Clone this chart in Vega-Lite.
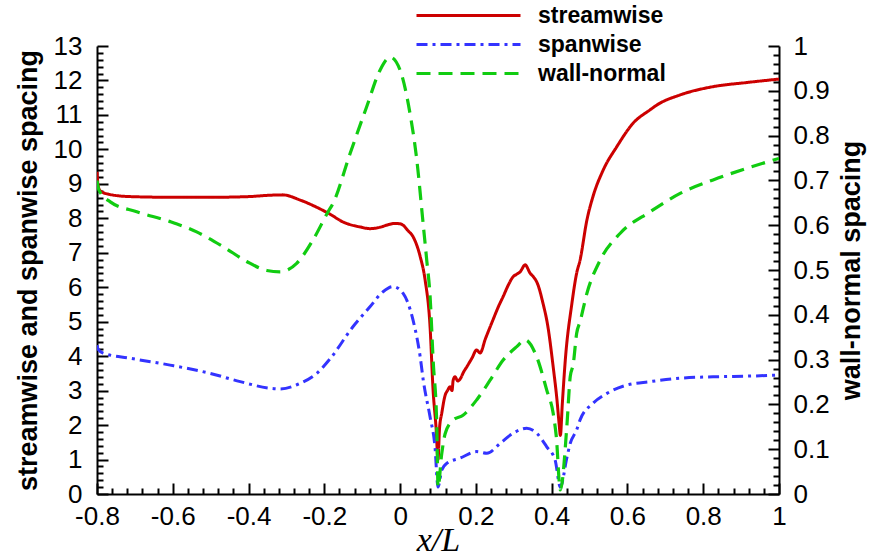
{
  "$schema": "https://vega.github.io/schema/vega-lite/v6.json",
  "autosize": {"type": "none"},
  "padding": {"left": 97, "top": 46, "right": 91, "bottom": 60},
  "width": 682,
  "height": 448,
  "background": "white",
  "config": {
    "view": {"stroke": null},
    "axis": {
      "domainColor": "black", "domainWidth": 2, "tickColor": "black", "tickWidth": 2,
      "grid": false, "labelFont": "Liberation Sans", "labelFontSize": 26, "labelColor": "black",
      "titleColor": "black"
    },
    "legend": {
      "labelFont": "Liberation Sans", "labelFontSize": 23, "labelFontWeight": "bold", "labelColor": "black"
    }
  },
  "datasets": {
    "lr": [
      {"s":"streamwise","x":-0.8,"y":9.35},{"s":"streamwise","x":-0.797,"y":8.95},{"s":"streamwise","x":-0.792,"y":8.8},{"s":"streamwise","x":-0.77,"y":8.7},{"s":"streamwise","x":-0.713,"y":8.63},{"s":"streamwise","x":-0.6,"y":8.61},{"s":"streamwise","x":-0.5,"y":8.61},{"s":"streamwise","x":-0.4,"y":8.63},{"s":"streamwise","x":-0.343,"y":8.67},{"s":"streamwise","x":-0.31,"y":8.68},{"s":"streamwise","x":-0.264,"y":8.53},{"s":"streamwise","x":-0.22,"y":8.32},{"s":"streamwise","x":-0.185,"y":8.12},{"s":"streamwise","x":-0.15,"y":7.89},{"s":"streamwise","x":-0.106,"y":7.75},{"s":"streamwise","x":-0.079,"y":7.7},{"s":"streamwise","x":-0.053,"y":7.74},{"s":"streamwise","x":-0.03,"y":7.82},{"s":"streamwise","x":-0.015,"y":7.85},{"s":"streamwise","x":0.0,"y":7.84},{"s":"streamwise","x":0.008,"y":7.8},{"s":"streamwise","x":0.02,"y":7.65},{"s":"streamwise","x":0.034,"y":7.47},{"s":"streamwise","x":0.053,"y":6.89},{"s":"streamwise","x":0.066,"y":6.21},{"s":"streamwise","x":0.079,"y":4.86},{"s":"streamwise","x":0.087,"y":3.02},{"s":"streamwise","x":0.095,"y":1.9},{"s":"streamwise","x":0.1,"y":1.0},{"s":"streamwise","x":0.104,"y":1.9},{"s":"streamwise","x":0.11,"y":2.35},{"s":"streamwise","x":0.119,"y":2.87},{"s":"streamwise","x":0.125,"y":3.0},{"s":"streamwise","x":0.132,"y":3.11},{"s":"streamwise","x":0.137,"y":3.0},{"s":"streamwise","x":0.14,"y":3.3},{"s":"streamwise","x":0.145,"y":3.4},{"s":"streamwise","x":0.152,"y":3.28},{"s":"streamwise","x":0.158,"y":3.33},{"s":"streamwise","x":0.168,"y":3.55},{"s":"streamwise","x":0.176,"y":3.69},{"s":"streamwise","x":0.19,"y":3.95},{"s":"streamwise","x":0.202,"y":4.18},{"s":"streamwise","x":0.211,"y":4.09},{"s":"streamwise","x":0.225,"y":4.5},{"s":"streamwise","x":0.245,"y":5.05},{"s":"streamwise","x":0.26,"y":5.45},{"s":"streamwise","x":0.272,"y":5.73},{"s":"streamwise","x":0.285,"y":6.05},{"s":"streamwise","x":0.298,"y":6.3},{"s":"streamwise","x":0.308,"y":6.38},{"s":"streamwise","x":0.317,"y":6.45},{"s":"streamwise","x":0.33,"y":6.65},{"s":"streamwise","x":0.343,"y":6.41},{"s":"streamwise","x":0.352,"y":6.3},{"s":"streamwise","x":0.362,"y":6.12},{"s":"streamwise","x":0.377,"y":5.54},{"s":"streamwise","x":0.39,"y":4.86},{"s":"streamwise","x":0.404,"y":3.69},{"s":"streamwise","x":0.414,"y":2.73},{"s":"streamwise","x":0.42,"y":2.0},{"s":"streamwise","x":0.423,"y":1.7},{"s":"streamwise","x":0.428,"y":2.6},{"s":"streamwise","x":0.436,"y":3.89},{"s":"streamwise","x":0.453,"y":5.5},{"s":"streamwise","x":0.466,"y":6.41},{"s":"streamwise","x":0.475,"y":6.79},{"s":"streamwise","x":0.493,"y":7.95},{"s":"streamwise","x":0.509,"y":8.63},{"s":"streamwise","x":0.536,"y":9.4},{"s":"streamwise","x":0.572,"y":10.08},{"s":"streamwise","x":0.615,"y":10.76},{"s":"streamwise","x":0.66,"y":11.15},{"s":"streamwise","x":0.678,"y":11.29},{"s":"streamwise","x":0.739,"y":11.58},{"s":"streamwise","x":0.826,"y":11.82},{"s":"streamwise","x":0.915,"y":11.94},{"s":"streamwise","x":1.0,"y":12.04},
      {"s":"spanwise","x":-0.8,"y":4.32},{"s":"spanwise","x":-0.797,"y":4.2},{"s":"spanwise","x":-0.784,"y":4.09},{"s":"spanwise","x":-0.713,"y":3.94},{"s":"spanwise","x":-0.607,"y":3.74},{"s":"spanwise","x":-0.501,"y":3.5},{"s":"spanwise","x":-0.422,"y":3.26},{"s":"spanwise","x":-0.343,"y":3.07},{"s":"spanwise","x":-0.317,"y":3.05},{"s":"spanwise","x":-0.264,"y":3.21},{"s":"spanwise","x":-0.22,"y":3.5},{"s":"spanwise","x":-0.185,"y":3.92},{"s":"spanwise","x":-0.124,"y":4.86},{"s":"spanwise","x":-0.079,"y":5.44},{"s":"spanwise","x":-0.045,"y":5.87},{"s":"spanwise","x":-0.019,"y":6.02},{"s":"spanwise","x":0.008,"y":5.82},{"s":"spanwise","x":0.034,"y":5.05},{"s":"spanwise","x":0.053,"y":3.98},{"s":"spanwise","x":0.061,"y":3.31},{"s":"spanwise","x":0.079,"y":2.24},{"s":"spanwise","x":0.092,"y":1.37},{"s":"spanwise","x":0.1,"y":0.2},{"s":"spanwise","x":0.11,"y":0.7},{"s":"spanwise","x":0.123,"y":0.89},{"s":"spanwise","x":0.158,"y":1.04},{"s":"spanwise","x":0.202,"y":1.23},{"s":"spanwise","x":0.229,"y":1.18},{"s":"spanwise","x":0.264,"y":1.47},{"s":"spanwise","x":0.298,"y":1.76},{"s":"spanwise","x":0.334,"y":1.91},{"s":"spanwise","x":0.361,"y":1.76},{"s":"spanwise","x":0.387,"y":1.37},{"s":"spanwise","x":0.409,"y":0.99},{"s":"spanwise","x":0.423,"y":0.2},{"s":"spanwise","x":0.44,"y":1.05},{"s":"spanwise","x":0.449,"y":1.47},{"s":"spanwise","x":0.466,"y":1.86},{"s":"spanwise","x":0.475,"y":2.15},{"s":"spanwise","x":0.509,"y":2.63},{"s":"spanwise","x":0.546,"y":2.92},{"s":"spanwise","x":0.598,"y":3.16},{"s":"spanwise","x":0.66,"y":3.26},{"s":"spanwise","x":0.739,"y":3.36},{"s":"spanwise","x":0.826,"y":3.4},{"s":"spanwise","x":0.915,"y":3.42},{"s":"spanwise","x":1.0,"y":3.45}
    ],
    "wn": [
      {"s":"wall-normal","x":-0.8,"y":0.7},{"s":"wall-normal","x":-0.795,"y":0.679},{"s":"wall-normal","x":-0.765,"y":0.652},{"s":"wall-normal","x":-0.695,"y":0.63},{"s":"wall-normal","x":-0.607,"y":0.608},{"s":"wall-normal","x":-0.537,"y":0.585},{"s":"wall-normal","x":-0.467,"y":0.552},{"s":"wall-normal","x":-0.405,"y":0.519},{"s":"wall-normal","x":-0.352,"y":0.499},{"s":"wall-normal","x":-0.317,"y":0.496},{"s":"wall-normal","x":-0.273,"y":0.515},{"s":"wall-normal","x":-0.23,"y":0.567},{"s":"wall-normal","x":-0.19,"y":0.63},{"s":"wall-normal","x":-0.177,"y":0.649},{"s":"wall-normal","x":-0.132,"y":0.76},{"s":"wall-normal","x":-0.088,"y":0.865},{"s":"wall-normal","x":-0.053,"y":0.946},{"s":"wall-normal","x":-0.026,"y":0.975},{"s":"wall-normal","x":0.0,"y":0.946},{"s":"wall-normal","x":0.026,"y":0.85},{"s":"wall-normal","x":0.044,"y":0.746},{"s":"wall-normal","x":0.0615,"y":0.597},{"s":"wall-normal","x":0.0705,"y":0.52},{"s":"wall-normal","x":0.0792,"y":0.44},{"s":"wall-normal","x":0.0871,"y":0.3},{"s":"wall-normal","x":0.0969,"y":0.15},{"s":"wall-normal","x":0.1,"y":0.015},{"s":"wall-normal","x":0.11,"y":0.091},{"s":"wall-normal","x":0.119,"y":0.135},{"s":"wall-normal","x":0.14,"y":0.165},{"s":"wall-normal","x":0.166,"y":0.176},{"s":"wall-normal","x":0.202,"y":0.21},{"s":"wall-normal","x":0.2375,"y":0.254},{"s":"wall-normal","x":0.272,"y":0.299},{"s":"wall-normal","x":0.308,"y":0.329},{"s":"wall-normal","x":0.33,"y":0.344},{"s":"wall-normal","x":0.361,"y":0.305},{"s":"wall-normal","x":0.387,"y":0.232},{"s":"wall-normal","x":0.404,"y":0.18},{"s":"wall-normal","x":0.412,"y":0.13},{"s":"wall-normal","x":0.423,"y":0.009},{"s":"wall-normal","x":0.44,"y":0.15},{"s":"wall-normal","x":0.449,"y":0.262},{"s":"wall-normal","x":0.457,"y":0.29},{"s":"wall-normal","x":0.466,"y":0.359},{"s":"wall-normal","x":0.475,"y":0.385},{"s":"wall-normal","x":0.493,"y":0.448},{"s":"wall-normal","x":0.528,"y":0.522},{"s":"wall-normal","x":0.581,"y":0.582},{"s":"wall-normal","x":0.66,"y":0.63},{"s":"wall-normal","x":0.739,"y":0.671},{"s":"wall-normal","x":0.826,"y":0.701},{"s":"wall-normal","x":0.915,"y":0.727},{"s":"wall-normal","x":1.0,"y":0.749}
    ]
  },
  "layer": [
    {
      "data": {"name": "lr"},
      "mark": {"type": "line", "strokeWidth": 3, "clip": true, "interpolate": "monotone"},
      "encoding": {
        "x": {"field": "x", "type": "quantitative", "scale": {"domain": [-0.8, 1], "nice": false, "zero": false},
              "axis": {"orient": "bottom", "values": [-0.8,-0.6,-0.4,-0.2,0,0.2,0.4,0.6,0.8,1], "labelExpr": "'' + datum.value", "tickSize": -11, "labelPadding": 20,
                       "title": "x/L", "titleFont": "Liberation Serif", "titleFontStyle": "italic", "titleFontWeight": "normal", "titleFontSize": 34, "titleY": 56, "titleBaseline": "alphabetic", "labelFlush": false}},
        "y": {"field": "y", "type": "quantitative", "scale": {"domain": [0, 13], "nice": false, "zero": true},
              "axis": {"orient": "left", "values": [0,1,2,3,4,5,6,7,8,9,10,11,12,13], "tickSize": -11, "labelPadding": 26,
                       "title": "streamwise and spanwise spacing", "titleFont": "Liberation Sans", "titleFontWeight": "bold", "titleFontSize": 27, "titlePadding": 11}},
        "color": {"field": "s", "type": "nominal", "scale": {"domain": ["streamwise", "spanwise", "wall-normal"], "range": ["#cc0000", "#3333ff", "#11cc11"]},
                  "legend": {"title": null, "orient": "none", "legendX": 357, "legendY": -45, "symbolType": "M-4,0H4", "symbolSize": 676, "symbolStrokeWidth": 3, "labelOffset": 55, "rowPadding": 2}},
        "strokeDash": {"field": "s", "type": "nominal", "scale": {"domain": ["streamwise", "spanwise", "wall-normal"], "range": [[1, 0], [11, 5, 3, 5], [14, 8]]},
                  "legend": {"title": null, "orient": "none", "legendX": 357, "legendY": -45, "symbolType": "M-4,0H4", "symbolSize": 676, "symbolStrokeWidth": 3, "labelOffset": 55, "rowPadding": 2}}
      }
    },
    {
      "data": {"name": "lr"},
      "mark": {"type": "line", "strokeOpacity": 0},
      "encoding": {
        "x": {"field": "x", "type": "quantitative", "scale": {"domain": [-0.8, 1], "nice": false, "zero": false},
              "axis": {"orient": "bottom", "values": [-0.76,-0.72,-0.68,-0.64,-0.56,-0.52,-0.48,-0.44,-0.36,-0.32,-0.28,-0.24,-0.16,-0.12,-0.08,-0.04,0.04,0.08,0.12,0.16,0.24,0.28,0.32,0.36,0.44,0.48,0.52,0.56,0.64,0.68,0.72,0.76,0.84,0.88,0.92,0.96], "tickSize": -6, "labels": false, "domain": false, "title": null}},
        "y": {"field": "y", "type": "quantitative", "scale": {"domain": [0, 13], "nice": false},
              "axis": {"orient": "left", "values": [0.2,0.4,0.6,0.8,1.2,1.4,1.6,1.8,2.2,2.4,2.6,2.8,3.2,3.4,3.6,3.8,4.2,4.4,4.6,4.8,5.2,5.4,5.6,5.8,6.2,6.4,6.6,6.8,7.2,7.4,7.6,7.8,8.2,8.4,8.6,8.8,9.2,9.4,9.6,9.8,10.2,10.4,10.6,10.8,11.2,11.4,11.6,11.8,12.2,12.4,12.6,12.8], "tickSize": -6, "labels": false, "domain": false, "title": null}}
      }
    },
    {
      "data": {"name": "wn"},
      "mark": {"type": "line", "strokeWidth": 3.2, "clip": true, "interpolate": "monotone"},
      "encoding": {
        "x": {"field": "x", "type": "quantitative", "scale": {"domain": [-0.8, 1], "nice": false, "zero": false}, "axis": null},
        "y": {"field": "y", "type": "quantitative", "scale": {"domain": [0, 1], "nice": false},
              "axis": {"orient": "right", "values": [0,0.1,0.2,0.3,0.4,0.5,0.6,0.7,0.8,0.9,1], "labelExpr": "'' + datum.value", "tickSize": -11, "labelPadding": 25,
                       "title": "wall-normal spacing", "titleFont": "Liberation Sans", "titleFontWeight": "bold", "titleFontSize": 27, "titleAngle": 270, "titleX": 80, "titleY": 224, "titleBaseline": "alphabetic", "titleAlign": "center"}},
        "color": {"field": "s", "type": "nominal", "scale": {"domain": ["streamwise", "spanwise", "wall-normal"], "range": ["#cc0000", "#3333ff", "#11cc11"]}},
        "strokeDash": {"field": "s", "type": "nominal", "scale": {"domain": ["streamwise", "spanwise", "wall-normal"], "range": [[1, 0], [11, 5, 3, 5], [14, 8]]}}
      }
    },
    {
      "data": {"name": "wn"},
      "mark": {"type": "line", "strokeOpacity": 0},
      "encoding": {
        "x": {"field": "x", "type": "quantitative", "scale": {"domain": [-0.8, 1], "nice": false, "zero": false}, "axis": null},
        "y": {"field": "y", "type": "quantitative", "scale": {"domain": [0, 1], "nice": false},
              "axis": {"orient": "right", "values": [0.02,0.04,0.06,0.08,0.12,0.14,0.16,0.18,0.22,0.24,0.26,0.28,0.32,0.34,0.36,0.38,0.42,0.44,0.46,0.48,0.52,0.54,0.56,0.58,0.62,0.64,0.66,0.68,0.72,0.74,0.76,0.78,0.82,0.84,0.86,0.88,0.92,0.94,0.96,0.98], "tickSize": -6, "labels": false, "domain": false, "title": null}}
      }
    }
  ],
  "resolve": {"scale": {"y": "independent"}, "axis": {"x": "independent", "y": "independent"}}
}
